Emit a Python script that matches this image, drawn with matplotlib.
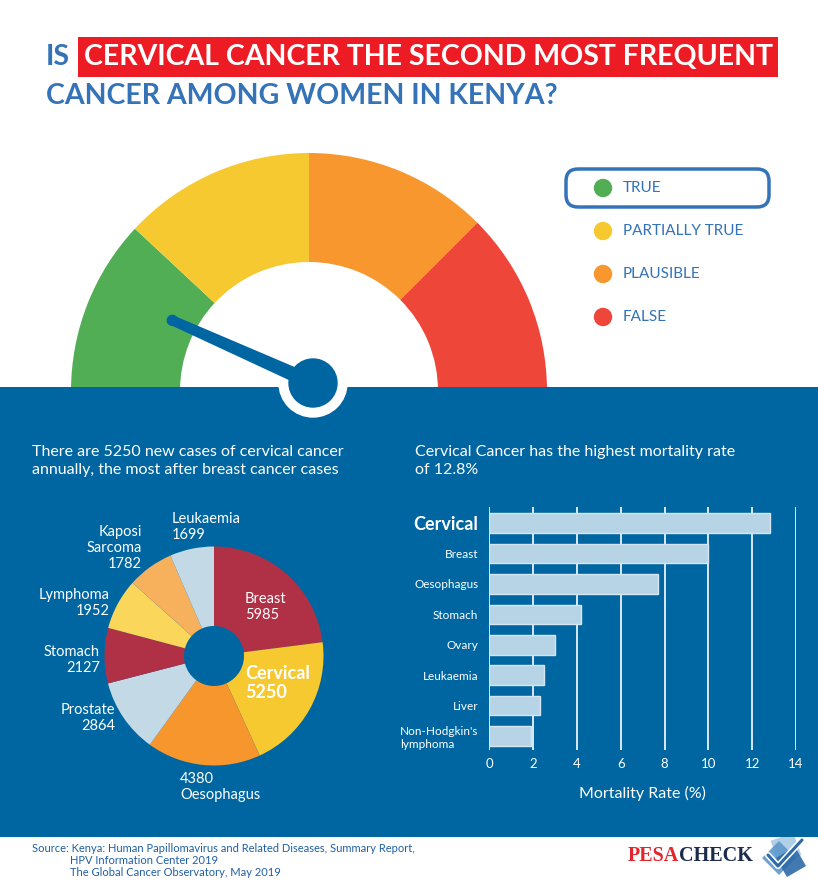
"""Infographic: is cervical cancer the second most frequent cancer among women in Kenya?"""

import matplotlib
matplotlib.use("Agg")  # Use non-interactive backend
import matplotlib.pyplot as plt
from matplotlib.patches import Wedge, Circle, Rectangle, FancyBboxPatch, Polygon
import numpy as np

plt.rcParams["font.family"] = ["Lato", "DejaVu Sans"]

W, H = 818, 883
BLUE = "#0066A1"
TITLE_BLUE = "#3473B7"
RED = "#ED1C24"

# verdict gauge (left to right), spans in degrees
verdicts = ["TRUE", "PARTIALLY TRUE", "PLAUSIBLE", "FALSE"]
verdict_colors = ["#52AE55", "#F7C931", "#F7972E", "#EE4739"]
gauge_spans = [43, 47, 45, 45]
needle_angle = 156  # degrees, points into TRUE

# new cases per year
pie_labels = ["Breast", "Cervical", "Oesophagus", "Prostate", "Stomach",
              "Lymphoma", "Kaposi\nSarcoma", "Leukaemia"]
pie_cases = [5985, 5250, 4380, 2864, 2127, 1952, 1782, 1699]
pie_colors = ["#B03146", "#F7C931", "#F6962D", "#C3D9E6", "#B03146",
              "#FAD65A", "#F7B15D", "#C3D9E6"]

# mortality rate (%)
bar_labels = ["Cervical", "Breast", "Oesophagus", "Stomach", "Ovary",
              "Leukaemia", "Liver", "Non-Hodgkin's\nlymphoma"]
mortality = [12.8, 10.0, 7.7, 4.2, 3.0, 2.5, 2.3, 1.9]
x_ticks = [0, 2, 4, 6, 8, 10, 12, 14]

source_lines = [
    "Source: Kenya: Human Papillomavirus and Related Diseases, Summary Report,",
    "HPV Information Center 2019",
    "The Global Cancer Observatory, May 2019",
]


def fy(y):
    """Image row (from top) to data y."""
    return H - y


fig = plt.figure(figsize=(W / 100, H / 100), dpi=100)
ax = fig.add_axes([0, 0, 1, 1])

# blue band
ax.add_patch(Rectangle((0, fy(837)), W, 837 - 387, color=BLUE, zorder=2, lw=0))

# gauge
cx, cy = 309, fy(391)
start = 180
for span, col in zip(gauge_spans, verdict_colors):
    ax.add_patch(Wedge((cx, cy), 238, start - span, start, width=109,
                       color=col, lw=0, zorder=1))
    start -= span

kx, ky = 313, fy(383)
ax.add_patch(Circle((kx, ky), 34, color="white", zorder=3))
a = np.radians(needle_angle)
d = np.array([np.cos(a), np.sin(a)])
n = np.array([-d[1], d[0]])
base = np.array([kx, ky])
tip = base + d * 154
needle = [base + n * 7.5, tip + n * 5, tip - n * 5, base - n * 7.5]
ax.add_patch(Polygon(needle, closed=True, color=BLUE, zorder=4, lw=0))
ax.add_patch(Circle(tip, 5, color=BLUE, zorder=4))
ax.add_patch(Circle((kx, ky), 24, color=BLUE, zorder=5))

# title
ax.add_patch(Rectangle((78, fy(77)), 700, 40, color=RED, zorder=2, lw=0))
ax.text(46, fy(57), "IS", color=TITLE_BLUE, fontsize=20.5, fontweight="bold",
        va="center", ha="left", zorder=3)
ax.text(428, fy(57), "CERVICAL CANCER THE SECOND MOST FREQUENT", color="white",
        fontsize=20.5, fontweight="bold", va="center", ha="center", zorder=3)
ax.text(46, fy(96), "CANCER AMONG WOMEN IN KENYA?", color=TITLE_BLUE,
        fontsize=20.5, fontweight="bold", va="center", ha="left", zorder=3)

# legend
ax.add_patch(FancyBboxPatch((566, fy(207)), 203, 38,
                            boxstyle="round,pad=0,rounding_size=12",
                            fc="white", ec=TITLE_BLUE, lw=2.5, zorder=2))
for i, (lab, col) in enumerate(zip(verdicts, verdict_colors)):
    yy = fy(188 + i * 43)
    ax.add_patch(Circle((603, yy), 8.5, color=col, zorder=3))
    ax.text(623, yy, lab, color=TITLE_BLUE, fontsize=11, va="center",
            ha="left", zorder=3)

# section headings
ax.text(32, fy(461), "There are 5250 new cases of cervical cancer\n"
        "annually, the most after breast cancer cases", color="white",
        fontsize=11.5, va="center", ha="left", linespacing=1.35, zorder=3)
ax.text(415, fy(461), "Cervical Cancer has the highest mortality rate\n"
        "of 12.8%", color="white", fontsize=11.5, va="center", ha="left",
        linespacing=1.35, zorder=3)

# donut of new cases
pcx, pcy, pr = 214, fy(656), 109.5
ax.pie(pie_cases, colors=pie_colors, startangle=90, counterclock=False,
       center=(pcx, pcy), radius=pr, frame=True,
       wedgeprops=dict(width=pr - 30, linewidth=0, zorder=3))

# label placement (x, y, ha) in image pixels
label_pos = [
    (245, 607, "left"), (245, 683, "left"), (180, 787, "left"),
    (115, 718, "right"), (100, 660, "right"), (110, 603, "right"),
    (142, 548, "right"), (172, 527, "left"),
]
for i, (lab, val) in enumerate(zip(pie_labels, pie_cases)):
    x, y, ha = label_pos[i]
    if lab == "Cervical":
        txt, size, weight = f"{lab}\n{val}", 13, "bold"
    elif lab == "Oesophagus":
        txt, size, weight = f"{val}\n{lab}", 10.5, "normal"
    else:
        txt, size, weight = f"{lab}\n{val}", 10.5, "normal"
    ax.text(x, fy(y), txt, color="white", fontsize=size, fontweight=weight,
            ha=ha, va="center", multialignment=ha, linespacing=1.2, zorder=6)

ax.set_xlim(0, W)
ax.set_ylim(0, H)
ax.axis("off")

# footer
ax.text(32, fy(848), source_lines[0], color="#1F5FA6", fontsize=8,
        va="center", ha="left")
ax.text(70, fy(861), source_lines[1], color="#1F5FA6", fontsize=8,
        va="center", ha="left")
ax.text(70, fy(873), source_lines[2], color="#1F5FA6", fontsize=8,
        va="center", ha="left")

pesa = ax.text(628, fy(856), "PESA", color="#E3262B", fontsize=14.5,
               fontweight="bold", family="Liberation Serif", va="center",
               ha="left")
ax.annotate("CHECK", xy=(1, 0.5), xycoords=pesa, color="#1B2B4B",
            fontsize=14.5, fontweight="bold", family="Liberation Serif",
            va="center", ha="left")
for (x0, y0, s, ang, col) in [(786, 848, 24, 20, "#A9CBE6"),
                              (779, 858, 24, 45, "#5E98CC"),
                              (791, 862, 22, 30, "#2C6AA8")]:
    ax.add_patch(Rectangle((x0 - s / 2, fy(y0) - s / 2), s, s, angle=ang,
                           rotation_point="center", color=col, lw=0, alpha=0.9))
ax.plot([768, 778, 802], [fy(855), fy(866), fy(840)], color="white", lw=4.5,
        solid_capstyle="round")
ax.plot([768, 778, 802], [fy(855), fy(866), fy(840)], color="#2C6AA8", lw=2.2,
        solid_capstyle="round")

# mortality bars
bx = fig.add_axes([489.3 / W, (H - 750) / H, (796 - 489.3) / W, (750 - 507) / H])
bx.set_facecolor("none")
ypos = np.arange(len(mortality))
bx.barh(ypos, mortality, height=0.64, color="#B7D4E6", edgecolor="#D4E6F1",
        lw=1, zorder=3)
bx.set_xlim(0, 14)
bx.set_ylim(len(mortality) - 0.54, -0.53)
bx.set_xticks(x_ticks)
bx.set_xticklabels([str(t) for t in x_ticks])
bx.grid(axis="x", color="white", lw=1.2)
bx.set_axisbelow(True)
for sp in bx.spines.values():
    sp.set_visible(False)
bx.tick_params(length=0, colors="white", labelsize=9.5, pad=6)
bx.set_yticks(ypos)
bx.set_yticklabels(bar_labels, fontsize=8.5)
for t in bx.get_yticklabels():
    t.set_multialignment("left")
    if t.get_text() == "Cervical":
        t.set_fontsize(13)
        t.set_fontweight("bold")
bx.tick_params(axis="y", pad=8)
bx.set_xlabel("Mortality Rate (%)", color="white", fontsize=11.5, labelpad=11)

fig.savefig("out.png", dpi=100)
